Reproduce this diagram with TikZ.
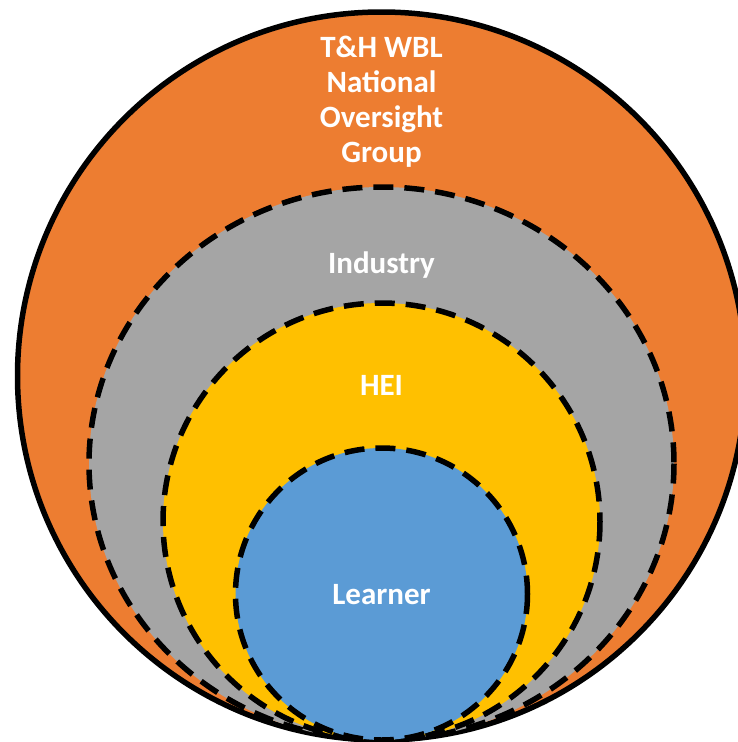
\documentclass[tikz,border=0pt]{standalone}
\usepackage{fontspec}
\setmainfont{Carlito}
\definecolor{ora}{HTML}{ED7D31}
\definecolor{gry}{HTML}{A5A5A5}
\definecolor{yel}{HTML}{FFC000}
\definecolor{blu}{HTML}{5B9BD5}
\tikzset{
  ring/.style={line width=5.5pt, draw=black},
  dashring/.style={line width=5.5pt, draw=black, dash pattern=on 20pt off 11pt},
  lbl/.style={text=white, font=\bfseries\fontsize{31}{35}\selectfont, align=center, inner sep=0pt}
}
\begin{document}
\begin{tikzpicture}[x=1pt,y=-1pt]
\useasboundingbox (0,0) rectangle (738,742);
\draw[ring, fill=ora] (381.5,376) circle [radius=364];
\draw[dashring, fill=gry] (381.5,463.5) ellipse [x radius=292.5, y radius=276.5];
\draw[dashring, fill=yel] (381.5,521.5) circle [radius=218.5];
\draw[dashring, fill=blu] (381.5,594) circle [radius=146];
\node[lbl] (top) at (381.5,102) {T\&H WBL\\National\\Oversight\\Group};
\node[lbl] (ind) at (381.5,265) {Industry};
\node[lbl] (hei) at (381.5,385) {HEI};
\node[lbl] (lrn) at (381.5,595) {Learner};
\end{tikzpicture}
\end{document}
